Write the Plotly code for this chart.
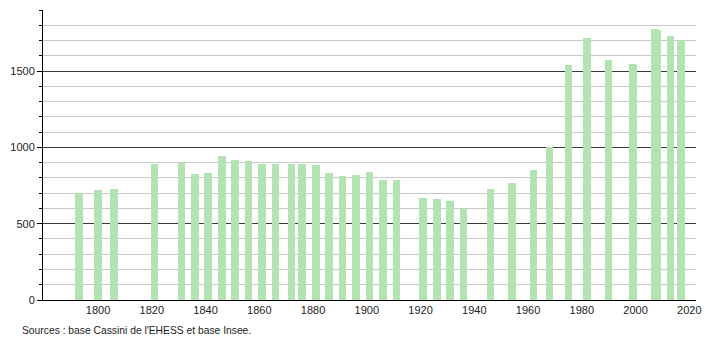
import plotly.graph_objects as go

years = [1793, 1800, 1806, 1821, 1831, 1836, 1841, 1846, 1851, 1856, 1861, 1866,
         1872, 1876, 1881, 1886, 1891, 1896, 1901, 1906, 1911, 1921, 1926, 1931,
         1936, 1946, 1954, 1962, 1968, 1975, 1982, 1990, 1999, 2007, 2008, 2013, 2017]
population = [702, 719, 730, 893, 899, 825, 831, 943, 917, 908, 893, 891,
              891, 891, 884, 831, 811, 820, 838, 785, 785, 671, 664, 651,
              596, 730, 767, 849, 1004, 1537, 1715, 1572, 1546, 1776, 1770, 1728, 1702]
x_ticks = [1800, 1820, 1840, 1860, 1880, 1900, 1920, 1940, 1960, 1980, 2000, 2020]
y_ticks = [0, 500, 1000, 1500]
source_text = "Sources : base Cassini de l'EHESS et base Insee."

FONT = "Liberation Sans, Arial, sans-serif"

fig = go.Figure()
fig.add_trace(go.Bar(
    x=years, y=population, width=2.85,
    marker=dict(color="#b3e3b3", line=dict(width=0)),
    hoverinfo="x+y",
))

L, R = 43, 9
PW = 710 - L - R

fig.update_layout(
    width=710, height=340,
    margin=dict(l=L, r=R, t=10, b=40),
    paper_bgcolor="white", plot_bgcolor="white",
    showlegend=False,
    font=dict(family=FONT, size=11, color="#222"),
    bargap=0,
    xaxis=dict(
        range=[1779.5, 2022.5],
        tickmode="array", tickvals=x_ticks, ticktext=[str(v) for v in x_ticks],
        showgrid=False, zeroline=False,
        showline=True, linecolor="black", linewidth=1,
        ticks="", ticklabeloverflow="allow",
        tickfont=dict(family=FONT, size=11, color="#222"),
    ),
    yaxis=dict(
        range=[0, 1900],
        tickmode="array", tickvals=y_ticks, ticktext=[str(v) for v in y_ticks],
        showgrid=True, gridcolor="#3a3a3a", gridwidth=1,
        zeroline=False,
        showline=True, linecolor="black", linewidth=1,
        ticks="outside", ticklen=5, tickcolor="black",
        tickfont=dict(family=FONT, size=11, color="#222"),
        minor=dict(dtick=100, tick0=0, ticks="outside", ticklen=3, tickcolor="black",
                   showgrid=True, gridcolor="#c8c8c8", gridwidth=1),
    ),
    annotations=[dict(
        text=source_text, xref="paper", yref="paper",
        x=-(L - 20) / PW, y=-(330 - 300) / 290, xanchor="left", yanchor="middle",
        showarrow=False, font=dict(family=FONT, size=10.3, color="#222"),
    )],
)

fig.write_html("out.html")
